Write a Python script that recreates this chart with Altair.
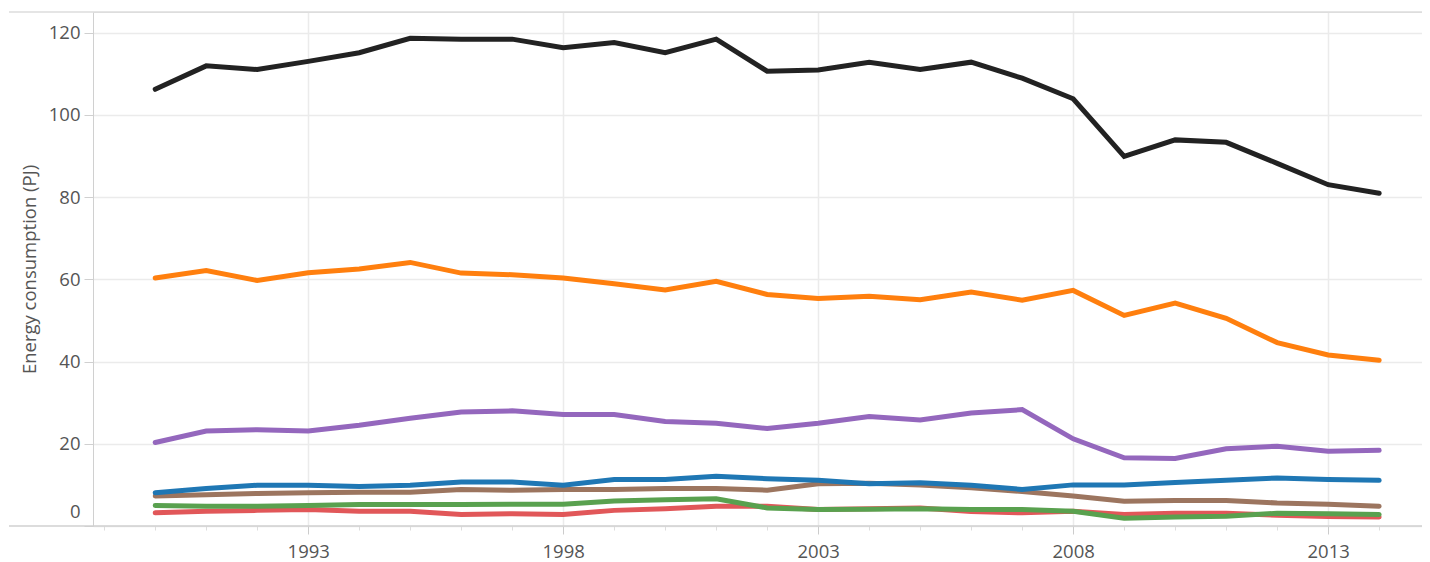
import altair as alt
import pandas as pd

years = list(range(1990, 2015))

total = [106.2, 111.9, 111.0, 113.0, 115.1, 118.6, 118.4, 118.4, 116.3, 117.6,
         115.1, 118.4, 110.6, 110.9, 112.8, 111.0, 112.8, 108.9, 103.9, 89.9,
         93.9, 93.3, 88.2, 83.0, 80.9]
orange = [60.3, 62.1, 59.7, 61.6, 62.5, 64.1, 61.5, 61.1, 60.3, 58.9,
          57.4, 59.5, 56.3, 55.3, 55.9, 55.0, 56.9, 54.9, 57.3, 51.2,
          54.2, 50.5, 44.6, 41.6, 40.3]
purple = [20.3, 23.1, 23.4, 23.1, 24.5, 26.2, 27.7, 28.0, 27.1, 27.1,
          25.4, 25.0, 23.7, 25.0, 26.6, 25.8, 27.5, 28.3, 21.2, 16.6,
          16.4, 18.8, 19.4, 18.2, 18.4]
blue = [8.1, 9.1, 9.9, 9.9, 9.6, 9.9, 10.7, 10.7, 9.9, 11.3,
        11.3, 12.1, 11.5, 11.1, 10.3, 10.5, 9.9, 8.9, 10.0, 10.0,
        10.6, 11.1, 11.7, 11.3, 11.1]
brown = [7.3, 7.6, 7.9, 8.1, 8.2, 8.2, 8.9, 8.7, 8.9, 8.9,
         9.1, 9.1, 8.7, 10.3, 10.4, 10.0, 9.3, 8.4, 7.3, 6.0,
         6.2, 6.2, 5.6, 5.3, 4.8]
green = [5.0, 4.8, 4.8, 5.0, 5.2, 5.2, 5.2, 5.3, 5.3, 6.1,
         6.4, 6.6, 4.4, 4.0, 4.1, 4.2, 4.0, 4.0, 3.6, 1.9,
         2.2, 2.4, 3.1, 3.0, 2.8]
red = [3.2, 3.6, 3.8, 4.0, 3.6, 3.6, 2.8, 3.0, 2.8, 3.8,
       4.2, 4.8, 4.8, 4.0, 4.2, 4.4, 3.5, 3.2, 3.6, 2.8,
       3.1, 3.1, 2.6, 2.3, 2.2]

# drawing order: first drawn at the bottom
names = ["Red", "Brown", "Green", "Blue", "Purple", "Orange", "Total"]
values = [red, brown, green, blue, purple, orange, total]
colors = ["#e15759", "#9c755f", "#59a14f", "#1f77b4", "#9467bd", "#ff7f0e", "#222222"]

rows = []
for i, (n, vals) in enumerate(zip(names, values)):
    for yr, v in zip(years, vals):
        rows.append({"series": n, "order": i, "year": yr, "value": v})
df = pd.DataFrame(rows)

W, H = 1329, 514
FONT = "Open Sans"
FS = 18.5
major = "(datum.value - 1993) % 5 === 0"

x_axis = alt.Axis(
    values=list(range(1989, 2015)),
    format="d",
    labelExpr=f"{major} ? datum.label : ''",
    labelOverlap=False,
    labelFontSize=FS,
    labelColor="#555555",
    labelFont=FONT,
    labelPadding=8,
    grid=True,
    gridColor="#ebebeb",
    gridWidth=1.5,
    gridOpacity={"condition": {"test": major, "value": 1}, "value": 0},
    tickSize={"condition": {"test": major, "value": 8}, "value": 4},
    tickColor={"condition": {"test": major, "value": "#cccccc"}, "value": "#dddddd"},
    domain=False,
    title=None,
)

y_axis = alt.Axis(
    values=[0, 20, 40, 60, 80, 100, 120],
    labelFontSize=FS,
    labelColor="#555555",
    labelFont=FONT,
    labelPadding=4,
    labelFlush=True,
    labelFlushOffset=-5,
    grid=True,
    gridColor="#ebebeb",
    gridWidth=1.5,
    tickSize=9,
    tickColor="#d0d0d0",
    domain=True,
    domainColor="#d0d0d0",
    title="Energy consumption (PJ)",
    titleFont=FONT,
    titleFontSize=FS,
    titleFontWeight="normal",
    titleColor="#555555",
    titlePadding=9,
)

lines = alt.Chart(df).mark_line(strokeWidth=5, strokeCap="round").encode(
    x=alt.X("year:Q", axis=x_axis,
            scale=alt.Scale(domain=[1988.78, 2014.84], nice=False, zero=False)),
    y=alt.Y("value:Q", axis=y_axis,
            scale=alt.Scale(domain=[0, 125], nice=False)),
    color=alt.Color("series:N", scale=alt.Scale(domain=names, range=colors), legend=None),
    order=alt.Order("year:Q"),
)

frame_df = pd.DataFrame({"k": [0]})
top_rule = alt.Chart(frame_df).mark_rule(color="#dddddd", strokeWidth=1.5).encode(
    x=alt.value(-84), x2=alt.value(W), y=alt.value(0)
)
bottom_rule = alt.Chart(frame_df).mark_rule(color="#d0d0d0", strokeWidth=1.5).encode(
    x=alt.value(-84), x2=alt.value(W), y=alt.value(H)
)

chart = alt.layer(top_rule, lines, bottom_rule).properties(
    width=W,
    height=H,
    autosize=alt.AutoSizeParams(type="none"),
    padding={"left": 85, "top": 4, "right": 0, "bottom": 36},
).configure_view(stroke=None).configure(background="white", font=FONT)

chart.save("out.html", embed_options={"renderer": "svg", "actions": False})
